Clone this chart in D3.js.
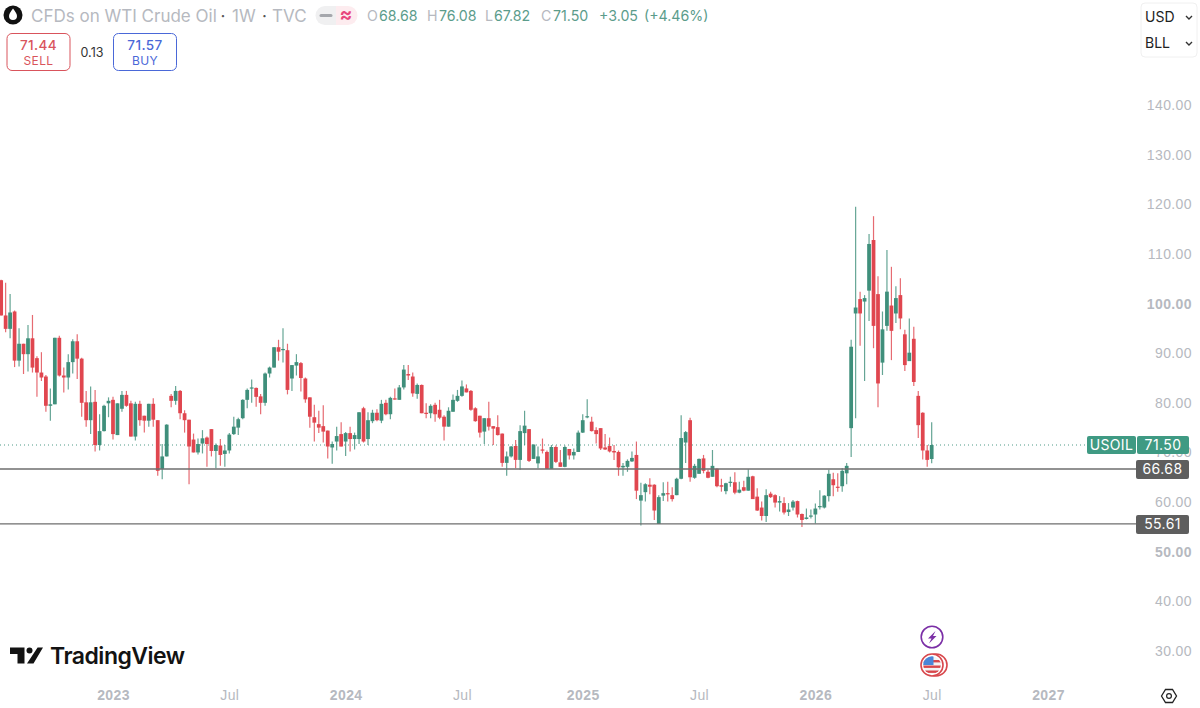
<!DOCTYPE html>
<html>
<head>
<meta charset="utf-8">
<script src="https://cdn.jsdelivr.net/npm/d3@7"></script>
<style>
  html, body { margin: 0; padding: 0; background: #fff; overflow: hidden; }
  svg { display: block; font-family: Inter, "Noto Sans", sans-serif; }
  .axis text { fill: #b6b9c0; font-size: 14px; letter-spacing: 0.4px; }
  .axis .major text { font-weight: 700; }
</style>
</head>
<body>
<svg id="chart" width="1200" height="708"></svg>
<script>
"use strict";

// weekly bars; last one is the week of 6 Jul 2026
var opens = [104.7,97.6,94.9,98.4,88.5,91.9,89.8,93.0,89.0,86.1,85.3,79.4,79.7,93.1,85.5,85.1,88.2,92.4,88.9,80.1,
  76.5,80.2,71.5,74.3,79.9,80.6,73.5,78.8,81.6,79.9,73.2,79.8,77.4,76.4,79.8,76.5,66.7,69.2,81.4,80.4,
  82.4,77.9,76.6,72.6,70.0,71.8,73.0,74.7,70.3,71.4,69.7,70.4,73.7,75.0,76.9,80.6,82.9,83.0,81.3,80.0,
  85.9,87.1,91.2,90.6,90.6,84.9,87.5,88.0,84.9,81.1,77.1,75.7,75.3,74.4,71.0,72.2,73.7,72.2,73.9,72.7,
  72.7,78.9,72.7,76.3,78.0,76.4,80.0,77.7,80.9,80.6,83.1,85.8,85.3,81.8,83.6,78.0,77.9,79.6,78.6,77.2,
  75.2,78.2,80.4,81.4,82.9,82.4,78.9,77.4,74.2,76.9,75.3,75.1,73.8,67.9,69.2,71.3,68.5,73.9,74.7,68.7,
  67.8,70.6,70.1,66.7,71.1,68.0,67.1,70.7,69.4,70.1,74.0,77.1,76.2,74.5,74.9,71.0,71.3,70.3,70.1,67.0,
  67.1,68.2,69.5,60.3,62.0,63.5,63.5,55.6,61.3,61.8,61.4,61.4,64.7,72.0,76.5,64.9,65.7,68.8,66.1,65.1,
  66.7,63.4,62.2,63.9,64.0,61.9,63.0,62.3,65.2,61.1,58.9,57.2,61.7,61.4,59.9,59.8,58.0,58.9,60.2,57.6,
  56.6,57.1,57.5,59.0,58.9,61.2,64.6,63.1,63.2,65.8,74.9,98.0,100.9,100.4,102.6,112.8,101.9,88.1,95.5,99.6,
  98.0,101.7,93.8,88.4,92.9,81.4,78.0,70.4,68.68];

var highs = [104.8,104.2,101.9,98.6,95.0,91.9,95.7,97.7,89.4,90.2,85.6,82.9,93.1,93.5,87.1,89.8,92.8,93.8,89.1,82.4,
  83.3,82.6,77.7,79.6,81.1,81.2,79.9,82.4,82.4,80.4,80.2,80.4,77.4,79.8,80.9,76.5,71.7,75.7,81.8,83.4,
  82.6,78.5,76.6,73.8,72.8,74.5,73.2,74.7,71.8,72.7,71.5,73.9,77.2,77.0,80.7,82.9,84.7,83.1,81.8,86.1,
  87.3,91.2,92.7,95.0,91.9,87.6,89.8,88.2,85.1,81.1,79.6,78.4,79.5,74.4,72.2,75.2,76.1,74.1,75.2,74.0,
  78.1,79.2,78.1,78.6,78.7,80.6,80.6,81.2,82.9,83.6,87.6,87.6,86.1,83.9,83.7,79.9,79.7,80.0,80.6,77.5,
  79.1,81.7,82.6,84.5,83.7,82.6,79.1,77.4,76.9,80.2,75.3,77.5,73.8,70.2,71.3,72.5,75.5,78.4,74.7,71.6,
  71.2,72.8,70.4,71.5,71.4,70.5,71.4,70.7,70.8,74.4,77.7,80.7,77.2,75.1,74.9,73.7,73.0,71.5,70.4,67.9,
  68.6,70.2,72.2,63.9,63.8,64.8,63.6,61.4,64.0,64.1,63.0,64.9,77.5,74.3,77.0,67.7,68.8,69.5,66.5,70.5,
  66.8,64.7,63.9,65.1,66.0,64.1,64.3,66.6,65.3,62.8,60.1,62.6,62.1,61.6,61.2,61.0,59.8,60.4,60.3,57.7,
  58.7,58.5,59.7,62.4,61.4,66.5,65.9,65.8,66.8,67.9,92.7,119.5,102.4,101.7,114.0,117.6,105.5,98.4,110.8,107.4,
  103.5,105.1,94.7,97.0,95.3,82.4,78.1,71.5,76.08];

var lows = [97.6,94.2,93.0,87.2,87.3,85.8,86.3,86.1,81.2,84.4,78.2,76.4,79.7,85.3,82.1,82.7,85.9,84.8,77.2,75.2,
  73.7,70.2,70.4,74.2,77.1,72.6,73.5,78.2,79.2,73.2,72.4,75.4,74.0,75.2,75.2,65.3,64.6,69.2,79.1,79.6,
  76.7,74.0,63.6,70.0,69.6,69.8,67.1,69.2,66.8,67.3,67.1,69.8,73.5,73.5,76.7,78.9,80.0,79.2,77.7,79.4,
  85.1,87.1,88.5,88.1,81.7,82.4,85.5,82.3,80.0,75.0,72.2,73.9,72.0,68.8,67.7,70.4,71.2,69.3,70.2,70.6,
  71.7,72.0,71.5,75.9,76.3,75.9,77.5,76.7,80.6,80.6,82.7,84.6,81.2,80.8,77.9,76.9,76.9,76.2,76.7,72.4,
  75.2,78.2,80.2,81.2,82.1,78.4,76.2,73.0,71.7,74.4,71.5,73.4,67.1,65.3,69.0,66.8,66.5,71.5,68.1,68.7,
  66.8,69.8,66.7,66.7,67.9,67.1,67.0,68.6,68.6,70.1,73.9,76.9,74.2,71.8,70.5,70.5,70.0,68.5,65.3,65.3,
  66.1,68.1,60.6,55.3,60.1,61.6,56.4,55.6,60.2,60.1,60.1,61.4,64.6,67.9,64.1,64.7,65.7,65.8,64.8,65.1,
  63.0,62.1,61.6,63.1,61.6,61.8,62.2,62.3,60.6,58.2,56.3,56.0,60.8,58.9,58.1,57.5,57.2,58.3,56.9,55.0,
  56.5,56.7,55.7,58.5,58.7,60.1,61.2,62.1,62.1,63.6,69.1,76.9,91.5,84.4,96.5,91.0,79.1,85.6,94.5,88.6,
  96.1,94.8,86.4,88.4,83.4,72.9,68.6,67.1,67.82];

var closes = [97.6,94.9,98.2,88.5,91.9,89.8,93.0,87.1,86.1,85.1,79.4,79.7,93.1,85.5,85.1,88.2,92.4,88.9,80.0,76.5,
  80.1,71.5,74.3,79.4,80.4,73.7,79.9,81.6,79.4,73.2,79.8,76.5,76.4,79.8,76.6,66.3,69.2,75.6,80.4,82.4,
  77.9,76.5,71.2,70.0,71.7,72.85,71.7,70.3,71.5,69.5,70.4,73.6,75.2,76.7,80.6,82.6,83.1,81.2,80.0,85.9,
  87.1,91.2,90.3,90.85,82.6,87.6,88.2,85.0,80.7,77.2,76.0,75.0,74.2,71.2,71.7,73.3,71.2,73.9,72.7,73.5,
  78.1,72.2,76.5,78.0,76.5,79.8,77.7,81.0,80.7,83.1,86.7,85.5,81.9,83.6,77.9,77.9,79.4,77.7,77.0,75.2,
  78.4,80.6,81.4,83.3,82.1,78.6,76.3,74.0,76.9,75.2,74.8,73.5,67.9,69.2,71.2,68.5,74.3,75.4,68.3,71.6,
  69.2,70.4,66.7,71.1,68.1,67.1,71.1,69.4,70.1,74.0,76.5,77.3,74.3,73.7,70.8,70.6,70.2,70.0,67.0,67.3,
  68.3,68.9,62.3,61.4,63.6,63.1,58.3,61.0,61.8,61.7,60.6,64.7,72.9,74.1,65.0,67.3,68.7,66.3,64.9,67.3,
  63.2,63.1,63.8,64.1,61.9,62.5,62.3,65.1,60.6,58.3,57.2,61.4,61.0,59.9,60.2,57.9,58.5,60.1,57.5,56.4,
  56.9,57.3,58.7,59.2,61.3,65.7,63.4,62.9,66.3,67.3,91.3,99.2,98.0,101.1,112.0,95.5,83.9,94.8,102.4,94.5,
  101.1,97.0,87.6,90.1,84.2,75.5,70.4,68.5,71.50];

var lastBar = new Date(Date.UTC(2026, 6, 6));

var priceTicks = [140, 130, 120, 110, 100, 90, 80, 70, 60, 50, 40, 30];
var majorPrices = [100, 50];

var timeTicks = [
  new Date(Date.UTC(2023, 0, 2)), new Date(Date.UTC(2023, 6, 3)),
  new Date(Date.UTC(2024, 0, 1)), new Date(Date.UTC(2024, 6, 1)),
  new Date(Date.UTC(2025, 0, 6)), new Date(Date.UTC(2025, 6, 7)),
  new Date(Date.UTC(2026, 0, 5)), new Date(Date.UTC(2026, 6, 6)),
  new Date(Date.UTC(2027, 0, 4))
];
var timeLabels = ["2023", "Jul", "2024", "Jul", "2025", "Jul", "2026", "Jul", "2027"];

var supportLevels = [66.68, 55.61];
var lastPrice = 71.50;

var headerValues = [
  { k: "O", v: "68.68", kx: 367, vx: 379 },
  { k: "H", v: "76.08", kx: 427, vx: 439 },
  { k: "L", v: "67.82", kx: 485, vx: 494 },
  { k: "C", v: "71.50", kx: 541, vx: 553 }
];

var red = "#e0464f", green = "#3f8f7b", muted = "#b6b9c0";

var bars = closes.map(function (d, i) {
  return {
    date: d3.utcMonday.offset(lastBar, i - closes.length + 1),
    open: opens[i], high: highs[i], low: lows[i], close: d
  };
});

var svg = d3.select("#chart");

var x = d3.scaleUtc()
  .domain([timeTicks[0], timeTicks[timeTicks.length - 1]])
  .range([113, 1048]);

var y = d3.scaleLinear().domain([30, 140]).range([651, 105]);

var step = x(bars[1].date) - x(bars[0].date);
var bodyWidth = step * 0.84;

// axes go first, the price tags sit on top of them
var yAxis = svg.append("g")
  .attr("class", "axis")
  .attr("transform", "translate(1192,0)")
  .call(d3.axisLeft(y).tickValues(priceTicks).tickSize(0).tickPadding(0)
    .tickFormat(function (d) { return d.toFixed(2); }));
yAxis.select(".domain").remove();
yAxis.selectAll(".tick").classed("major", function (d) { return majorPrices.indexOf(d) >= 0; });

var xAxis = svg.append("g")
  .attr("class", "axis")
  .attr("transform", "translate(0,690)")
  .call(d3.axisBottom(x).tickValues(timeTicks).tickSize(0).tickPadding(0)
    .tickFormat(function (d, i) { return timeLabels[i]; }));
xAxis.select(".domain").remove();
xAxis.selectAll(".tick").classed("major", function (d, i) { return timeLabels[i] !== "Jul"; });

// last price line
svg.append("line")
  .attr("x1", 0).attr("x2", 1087)
  .attr("y1", y(lastPrice)).attr("y2", y(lastPrice))
  .attr("stroke", "#4f9a87").attr("stroke-width", 1).attr("stroke-dasharray", "1 3");

// wicks and bodies
var candle = svg.append("g").selectAll("g").data(bars).join("g")
  .attr("fill", function (d) { return d.close >= d.open ? green : red; })
  .attr("stroke", function (d) { return d.close >= d.open ? green : red; });

candle.append("line")
  .attr("x1", function (d) { return x(d.date); })
  .attr("x2", function (d) { return x(d.date); })
  .attr("y1", function (d) { return y(d.high); })
  .attr("y2", function (d) { return y(d.low); })
  .attr("stroke-width", 1.2)
  .attr("stroke-opacity", 0.8);

candle.append("rect")
  .attr("stroke", "none")
  .attr("x", function (d) { return x(d.date) - bodyWidth / 2; })
  .attr("width", bodyWidth)
  .attr("y", function (d) { return y(Math.max(d.open, d.close)); })
  .attr("height", function (d) { return Math.max(1.2, Math.abs(y(d.open) - y(d.close))); });

// horizontal levels with their tags
supportLevels.forEach(function (level) {
  svg.append("line")
    .attr("x1", 0).attr("x2", 1136)
    .attr("y1", y(level)).attr("y2", y(level))
    .attr("stroke", "#6e6e6e").attr("stroke-width", 1.4);
  svg.append("rect")
    .attr("x", 1136).attr("y", y(level) - 9).attr("width", 53).attr("height", 19)
    .attr("rx", 2).attr("fill", "#5e5e5e");
  svg.append("text")
    .attr("x", 1162.5).attr("y", y(level) + 5.5)
    .attr("text-anchor", "middle").attr("fill", "#fff")
    .attr("font-size", 14).attr("letter-spacing", 0.4)
    .text(level.toFixed(2));
});

var tagY = y(lastPrice);
svg.append("rect").attr("x", 1087).attr("y", tagY - 9).attr("width", 49).attr("height", 18).attr("rx", 2).attr("fill", "#3f9a83");
svg.append("rect").attr("x", 1137).attr("y", tagY - 9).attr("width", 52).attr("height", 18).attr("rx", 2).attr("fill", "#3f9a83");
svg.append("text").attr("x", 1111.5).attr("y", tagY + 5).attr("text-anchor", "middle").attr("fill", "#fff")
  .attr("font-size", 14).attr("letter-spacing", 0.3).text("USOIL");
svg.append("text").attr("x", 1163).attr("y", tagY + 5).attr("text-anchor", "middle").attr("fill", "#fff")
  .attr("font-size", 14).attr("letter-spacing", 0.4).text(lastPrice.toFixed(2));

// header
svg.append("circle").attr("cx", 13).attr("cy", 15).attr("r", 9.5).attr("fill", "#111");
svg.append("path").attr("d", "M13 8.5 C15 11.5 17 13.5 17 16 A4 4 0 0 1 9 16 C9 13.5 11 11.5 13 8.5Z").attr("fill", "#fff");
svg.append("text").attr("x", 31).attr("y", 22).attr("font-size", 17).attr("fill", muted)
  .text("CFDs on WTI Crude Oil");
svg.append("text").attr("x", 220.5).attr("y", 22).attr("font-size", 17).attr("fill", "#555").text("·");
svg.append("text").attr("x", 232).attr("y", 22).attr("font-size", 17).attr("fill", muted).text("1W");
svg.append("text").attr("x", 262).attr("y", 22).attr("font-size", 17).attr("fill", "#555").text("·");
svg.append("text").attr("x", 272).attr("y", 22).attr("font-size", 17).attr("fill", muted).text("TVC");

// pill next to the title
svg.append("path").attr("d", "M325 6 H336 V25 H325 A9.5 9.5 0 0 1 325 6Z").attr("fill", "#f0f0f1");
svg.append("path").attr("d", "M336 6 H348 A9.5 9.5 0 0 1 348 25 H336Z").attr("fill", "#fdecef");
svg.append("line").attr("x1", 321).attr("x2", 331).attr("y1", 15.5).attr("y2", 15.5)
  .attr("stroke", "#a5a7ac").attr("stroke-width", 3).attr("stroke-linecap", "round");
svg.append("text").attr("x", 346).attr("y", 21).attr("text-anchor", "middle").attr("font-size", 19)
  .attr("font-weight", 700).attr("fill", "#e8467c").text("≈");

headerValues.forEach(function (d) {
  svg.append("text").attr("x", d.kx).attr("y", 21).attr("font-size", 14.2).attr("fill", muted).text(d.k);
  svg.append("text").attr("x", d.vx).attr("y", 21).attr("font-size", 14.2).attr("fill", "#5b9c8b").text(d.v);
});
svg.append("text").attr("x", 599).attr("y", 21).attr("font-size", 14.2).attr("fill", "#5b9c8b").text("+3.05");
svg.append("text").attr("x", 644).attr("y", 21).attr("font-size", 14.2).attr("fill", "#5b9c8b").text("(+4.46%)");

// sell / buy boxes
function quoteBox(bx, value, label, color) {
  svg.append("rect").attr("x", bx).attr("y", 33.5).attr("width", 63).attr("height", 37).attr("rx", 5)
    .attr("fill", "#fff").attr("stroke", color).attr("stroke-width", 1);
  svg.append("text").attr("x", bx + 31.5).attr("y", 50).attr("text-anchor", "middle").attr("font-size", 13.5)
    .attr("font-weight", 500).attr("letter-spacing", 0.4).attr("fill", color).text(value);
  svg.append("text").attr("x", bx + 31.5).attr("y", 65).attr("text-anchor", "middle").attr("font-size", 12)
    .attr("letter-spacing", 0.4).attr("fill", color).text(label);
}
quoteBox(7, "71.44", "SELL", "#d9545c");
quoteBox(113.5, "71.57", "BUY", "#4a68d8");
svg.append("text").attr("x", 92).attr("y", 57).attr("text-anchor", "middle").attr("font-size", 12.5).attr("fill", "#333").text("0.13");

// currency and unit selector
svg.append("rect").attr("x", 1141).attr("y", 3).attr("width", 56).attr("height", 54).attr("rx", 4)
  .attr("fill", "#fff").attr("stroke", "#f0f0f0");
[["USD", 22], ["BLL", 48]].forEach(function (d) {
  svg.append("text").attr("x", 1145).attr("y", d[1]).attr("font-size", 14).attr("fill", "#222").text(d[0]);
  svg.append("path").attr("d", "M1186 " + (d[1] - 6) + " l3 3 l3 -3").attr("fill", "none")
    .attr("stroke", "#333").attr("stroke-width", 1.4);
});

// TradingView mark
svg.append("path").attr("fill", "#131313")
  .attr("d", "M10 647.5 H24.5 V663.5 H17.5 V654 H10Z M27 663.5 L37.6 647.5 H43 L33.5 663.5Z");
svg.append("circle").attr("cx", 29.5).attr("cy", 650.5).attr("r", 3).attr("fill", "#131313");
svg.append("text").attr("x", 50).attr("y", 664).attr("font-size", 23).attr("font-weight", 600)
  .attr("letter-spacing", -0.5).attr("fill", "#131313").text("TradingView");

// event markers under the last bar
svg.append("circle").attr("cx", 932).attr("cy", 637).attr("r", 10.8).attr("fill", "#fff").attr("stroke", "#7b2fa6").attr("stroke-width", 1.6);
svg.append("path").attr("d", "M935.5 631 L928 638.5 H931.5 L929 643.5 L936.5 636 H933Z").attr("fill", "#7b2fa6");

svg.append("circle").attr("cx", 936).attr("cy", 665).attr("r", 11).attr("fill", "#fff").attr("stroke", "#d8474c").attr("stroke-width", 1.6);
svg.append("circle").attr("cx", 932).attr("cy", 665).attr("r", 11).attr("fill", "#fff").attr("stroke", "#d8474c").attr("stroke-width", 1.6);
var clip = svg.append("clipPath").attr("id", "flagClip");
clip.append("circle").attr("cx", 932).attr("cy", 665).attr("r", 8.8);
var flag = svg.append("g").attr("clip-path", "url(#flagClip)");
flag.append("rect").attr("x", 923).attr("y", 656).attr("width", 18).attr("height", 18).attr("fill", "#f3f3f3");
[660, 665.5, 670.5].forEach(function (sy) {
  flag.append("rect").attr("x", 923).attr("y", sy).attr("width", 18).attr("height", 2.4).attr("fill", "#d8474c");
});
flag.append("rect").attr("x", 923).attr("y", 656).attr("width", 10.5).attr("height", 9).attr("fill", "#4a86d8");

// settings hexagon
svg.append("path").attr("d", "M1161.5 696 L1165.5 689.5 H1172.5 L1176.5 696 L1172.5 702.5 H1165.5Z")
  .attr("fill", "none").attr("stroke", "#222").attr("stroke-width", 1.3);
svg.append("circle").attr("cx", 1169).attr("cy", 696).attr("r", 2.4).attr("fill", "none").attr("stroke", "#222").attr("stroke-width", 1.2);
</script>
</body>
</html>
